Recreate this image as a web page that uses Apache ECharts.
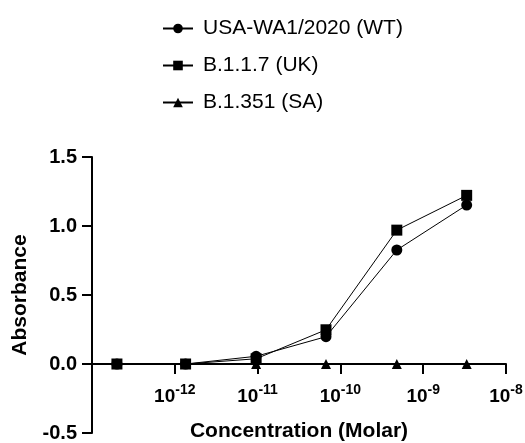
<!DOCTYPE html>
<html>
<head>
<meta charset="utf-8">
<script src="https://cdn.jsdelivr.net/npm/echarts@6/dist/echarts.min.js"></script>
<style>
  html, body { margin: 0; padding: 0; background: #fff; }
  #chart { width: 525px; height: 443px; }
</style>
</head>
<body>
<div id="chart"></div>
<script>
// concentrations (Molar)
var concentrations = [2.0e-13, 1.35e-12, 9.6e-12, 6.7e-11, 4.8e-10, 3.35e-9];
var seriesNames = ["USA-WA1/2020 (WT)", "B.1.1.7 (UK)", "B.1.351 (SA)"];
var wtValues = [0.0, 0.0, 0.056, 0.198, 0.826, 1.152];
var ukValues = [0.0, 0.0, 0.038, 0.248, 0.97, 1.222];
var saValues = [0.0, 0.0, 0.0, 0.0, 0.0, 0.0];
var yTicks = [-0.5, 0.0, 0.5, 1.0, 1.5];

function pairs(vals) {
  return concentrations.map(function (c, i) { return [c, vals[i]]; });
}

var chart = echarts.init(document.getElementById("chart"));
var font = "Liberation Sans, Arial, sans-serif";

function mk(name, vals, symbol, size) {
  return {
    name: name,
    type: "line",
    data: pairs(vals),
    symbol: symbol,
    symbolSize: size,
    showSymbol: true,
    itemStyle: { color: "#000" },
    lineStyle: { color: "#000", width: 1 },
    emphasis: { disabled: true },
    z: 3
  };
}

var option = {
  animation: false,
  textStyle: { fontFamily: font },
  legend: {
    orient: "vertical",
    left: 157,
    top: 13,
    itemWidth: 30,
    itemHeight: 12,
    itemGap: 16,
    selectedMode: false,
    data: seriesNames,
    textStyle: { fontFamily: font, fontSize: 21, color: "#000", padding: [0, 0, 0, 5] }
  },
  grid: { left: 92, top: 157, width: 414, height: 276, containLabel: false, outerBoundsMode: "none" },
  xAxis: {
    type: "log",
    logBase: 10,
    min: 1e-13,
    max: 1e-8,
    position: "bottom",
    offset: -69, // axis drawn at y = 0
    name: "Concentration (Molar)",
    nameLocation: "middle",
    nameGap: 57,
    nameTextStyle: { fontFamily: font, fontSize: 21, fontWeight: "bold", color: "#000" },
    axisLine: { onZero: false, lineStyle: { color: "#000", width: 2 } },
    axisTick: { show: true, inside: false, length: 10, lineStyle: { color: "#000", width: 2 } },
    splitLine: { show: false },
    minorTick: { show: false },
    axisLabel: {
      margin: 19,
      color: "#000",
      formatter: function (v) {
        var e = Math.round(Math.log10(v));
        if (e <= -13) return "";
        return "{b|10}{s|" + e + "}";
      },
      rich: {
        b: { fontFamily: font, fontSize: 19, fontWeight: "bold", color: "#000", verticalAlign: "bottom" },
        s: { fontFamily: font, fontSize: 14, fontWeight: "bold", color: "#000", padding: [0, 0, 9, 0], verticalAlign: "bottom" }
      }
    }
  },
  yAxis: {
    type: "value",
    min: yTicks[0],
    max: yTicks[yTicks.length - 1],
    interval: 0.5,
    name: "Absorbance",
    nameLocation: "middle",
    nameGap: 61,
    nameTextStyle: { fontFamily: font, fontSize: 21, fontWeight: "bold", color: "#000" },
    axisLine: { show: true, onZero: false, lineStyle: { color: "#000", width: 2 } },
    axisTick: { show: true, inside: false, length: 10, lineStyle: { color: "#000", width: 2 } },
    splitLine: { show: false },
    axisLabel: {
      margin: 15,
      color: "#000",
      fontFamily: font,
      fontSize: 20,
      fontWeight: "bold",
      formatter: function (v) { return v.toFixed(1); }
    }
  },
  series: [
    mk(seriesNames[0], wtValues, "circle", 11),
    mk(seriesNames[1], ukValues, "rect", 11),
    mk(seriesNames[2], saValues, "triangle", 10)
  ]
};

chart.setOption(option);
</script>
</body>
</html>
